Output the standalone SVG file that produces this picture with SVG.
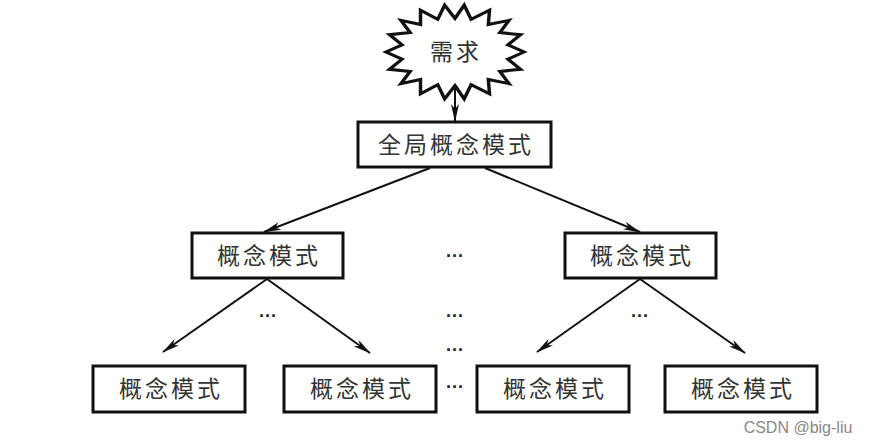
<svg xmlns="http://www.w3.org/2000/svg" width="876" height="447" viewBox="0 0 876 447">
<defs>
<marker id="ah" markerWidth="18" markerHeight="8" refX="17" refY="4" orient="auto" markerUnits="userSpaceOnUse"><path d="M0,0 L18,4 L0,8 L5,4 Z" fill="#111"/></marker>
<style>
.b{fill:#fff;stroke:#111;stroke-width:3}
.t{font-family:"Noto Sans CJK SC","Noto Sans CJK JP",sans-serif;font-size:23px;fill:#333;text-anchor:middle;letter-spacing:3px}
.c line{stroke:#111;stroke-width:2;marker-end:url(#ah)}
.d{font-family:"Liberation Sans",sans-serif;font-size:18px;fill:#222;text-anchor:middle;font-weight:bold}
</style>
</defs>
<rect width="876" height="447" fill="#fff"/>
<g id="req">
<polygon class="b" stroke-width="2.5" transform="translate(455,52) scale(1.15,1.02) translate(-455,-52)" points="515,52 501,59 512,69 494,71 502,83 484,79 485,93 469,84 463,98 455,85 446,98 440,84 425,93 425,79 408,83 416,71 398,69 409,59 395,52 409,45 398,35 416,33 408,21 425,25 425,11 440,20 446,6 455,19 463,6 469,20 485,11 484,25 502,21 494,33 512,35 501,45"/>
<text class="t" x="456" y="60">需求</text>
</g>
<g class="c" id="connectors">
<line x1="455" y1="88" x2="455" y2="121"/>
<line x1="430" y1="168" x2="264" y2="232"/>
<line x1="485" y1="168" x2="640" y2="232"/>
<line x1="267" y1="279" x2="163" y2="352"/>
<line x1="267" y1="279" x2="370" y2="353"/>
<line x1="640" y1="279" x2="537" y2="352"/>
<line x1="640" y1="279" x2="745" y2="353"/>
</g>
<g id="global"><rect class="b" x="358" y="122" width="193" height="45"/><text class="t" x="456" y="153">全局概念模式</text></g>
<g id="m1"><rect class="b" x="192" y="233" width="151" height="45"/><text class="t" x="269" y="264">概念模式</text></g>
<g id="m2"><rect class="b" x="565" y="233" width="151" height="45"/><text class="t" x="642" y="264">概念模式</text></g>
<g id="l1"><rect class="b" x="93" y="366" width="152" height="46"/><text class="t" x="171" y="397">概念模式</text></g>
<g id="l2"><rect class="b" x="284" y="366" width="152" height="46"/><text class="t" x="362" y="397">概念模式</text></g>
<g id="l3"><rect class="b" x="477" y="366" width="152" height="46"/><text class="t" x="555" y="397">概念模式</text></g>
<g id="l4"><rect class="b" x="665" y="366" width="152" height="46"/><text class="t" x="743" y="397">概念模式</text></g>
<g id="dots">
<text class="d" x="455" y="262">···</text>
<text class="d" x="268" y="322">···</text>
<text class="d" x="455" y="322">···</text>
<text class="d" x="640" y="322">···</text>
<text class="d" x="455" y="356">···</text>
<text class="d" x="455" y="393">···</text>
</g>
<text x="798" y="433" font-family="'Liberation Sans',sans-serif" font-size="16" fill="#888" text-anchor="middle">CSDN @big-liu</text>
</svg>
